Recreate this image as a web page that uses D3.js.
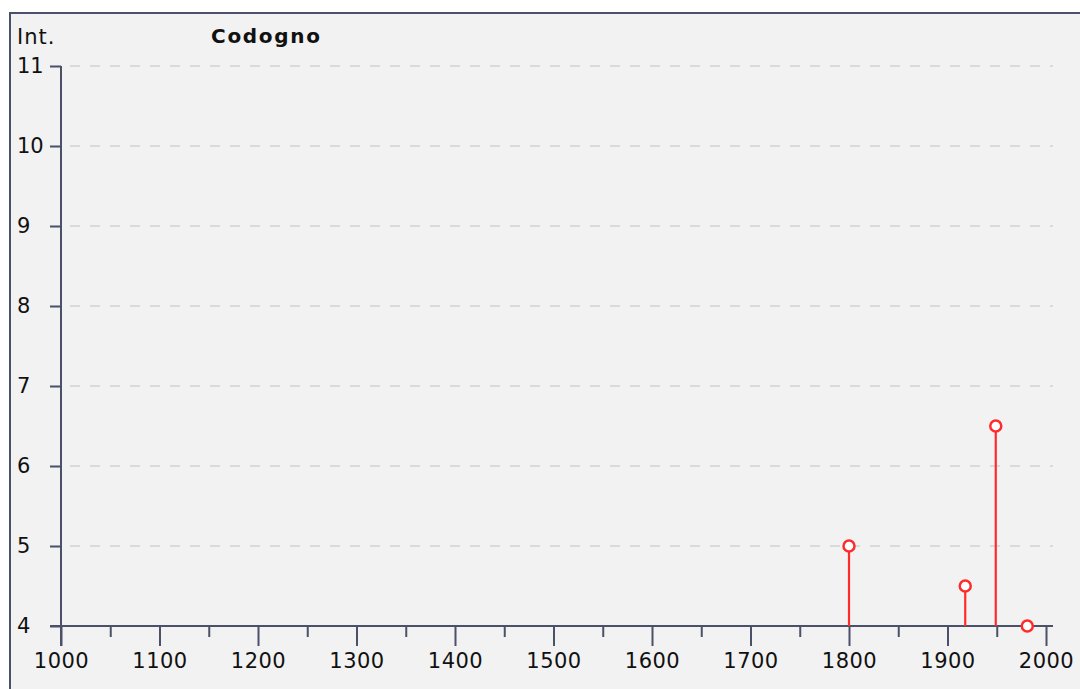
<!DOCTYPE html>
<html>
<head>
<meta charset="utf-8">
<script src="https://cdn.jsdelivr.net/npm/d3@7"></script>
<style>
  body { margin: 0; background: #fff; }
  svg { display: block; font-family: "DejaVu Sans", Verdana, sans-serif; }
</style>
</head>
<body>
<svg id="chart" width="1080" height="689"></svg>
<script>
// data
var years = [1800, 1918, 1949, 1981]
var intensity = [5, 4.5, 6.5, 4]
var yTicks = [4, 5, 6, 7, 8, 9, 10, 11]
var xTicks = [1000, 1100, 1200, 1300, 1400, 1500, 1600, 1700, 1800, 1900, 2000]
var title = 'Codogno'
var yName = 'Int.'

var axisColor = '#4b5169',
    red = '#ff2b2b'

var svg = d3.select('#chart')

// panel with frame (right/bottom run off the picture)
svg.append('rect')
    .attr('x', 10).attr('y', 13)
    .attr('width', 1090).attr('height', 700)
    .attr('fill', '#f2f2f2')
    .attr('stroke', axisColor)
    .attr('stroke-width', 2)

var x = d3.scaleLinear().domain([1000, 2000]).range([61, 1046])
var y = d3.scaleLinear().domain([4, 11]).range([626, 66])

// dashed grid
svg.append('g').selectAll('line')
    .data(yTicks.filter(d => d > 4))
    .enter().append('line')
    .attr('x1', 70).attr('x2', 1053)
    .attr('y1', d => y(d)).attr('y2', d => y(d))
    .attr('stroke', '#d2d2d2')
    .attr('stroke-width', 1.5)
    .attr('stroke-dasharray', '10,10')

// y axis
var yAxis = svg.append('g')
    .attr('transform', 'translate(' + x(1000) + ',0)')
    .call(d3.axisLeft(y).tickValues(yTicks).tickSize(11).tickPadding(0).tickFormat(d3.format('d')))
yAxis.select('.domain').remove()
yAxis.selectAll('.tick line').attr('stroke', axisColor).attr('stroke-width', 2)
yAxis.selectAll('.tick text')
    .attr('x', 17 - x(1000))
    .attr('text-anchor', 'start')
    .attr('fill', '#111')
    .style('font-size', '21px')
    .style('font-family', '"DejaVu Sans", Verdana, sans-serif')
yAxis.append('line')
    .attr('x1', 0).attr('x2', 0)
    .attr('y1', y(11)).attr('y2', y(4) + 20)
    .attr('stroke', axisColor).attr('stroke-width', 2)

// x axis, minor ticks first
var xAxis = svg.append('g').attr('transform', 'translate(0,' + y(4) + ')')
xAxis.append('g')
    .call(d3.axisBottom(x).tickValues(d3.range(1050, 2000, 100)).tickSize(11).tickFormat(''))
    .call(g => g.select('.domain').remove())
    .selectAll('.tick line').attr('stroke', axisColor).attr('stroke-width', 2)
var major = xAxis.append('g')
    .call(d3.axisBottom(x).tickValues(xTicks).tickSize(20).tickPadding(7).tickFormat(d3.format('d')))
major.select('.domain').remove()
major.selectAll('.tick line').attr('stroke', axisColor).attr('stroke-width', 2)
major.selectAll('.tick text')
    .attr('fill', '#111')
    .style('font-size', '21px')
    .style('letter-spacing', '0.5px')
    .style('font-family', '"DejaVu Sans", Verdana, sans-serif')
xAxis.append('line')
    .attr('x1', 50).attr('x2', 1053)
    .attr('stroke', axisColor).attr('stroke-width', 2)

// labels
svg.append('text')
    .attr('x', 17).attr('y', 44)
    .style('font-size', '21px')
    .style('letter-spacing', '1px')
    .attr('fill', '#111')
    .text(yName)
svg.append('text')
    .attr('x', 211).attr('y', 43)
    .style('font-size', '20px')
    .style('font-weight', 'bold')
    .style('letter-spacing', '1.7px')
    .attr('fill', '#111')
    .text(title)

// stems and markers
var points = years.map((d, i) => ({year: d, val: intensity[i]}))
svg.append('g').selectAll('line')
    .data(points)
    .enter().append('line')
    .attr('x1', d => x(d.year)).attr('x2', d => x(d.year))
    .attr('y1', y(4)).attr('y2', d => y(d.val))
    .attr('stroke', red).attr('stroke-width', 2.2)
svg.append('g').selectAll('circle')
    .data(points)
    .enter().append('circle')
    .attr('cx', d => x(d.year))
    .attr('cy', d => y(d.val))
    .attr('r', 5.5)
    .attr('fill', '#fff')
    .attr('stroke', red)
    .attr('stroke-width', 2.5)
</script>
</body>
</html>
